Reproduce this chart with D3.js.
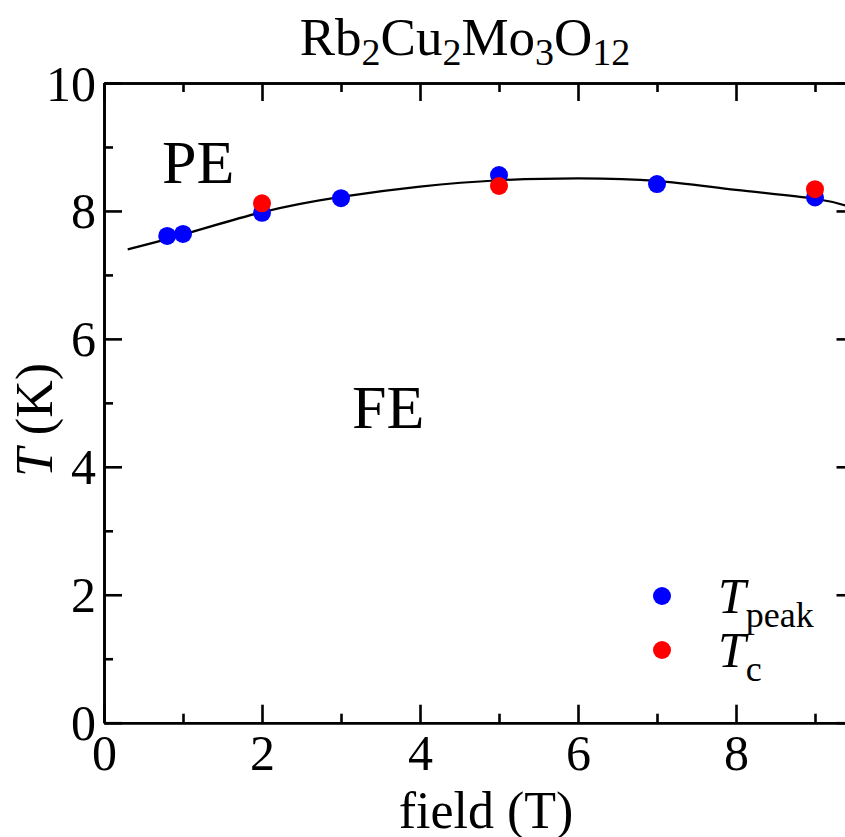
<!DOCTYPE html>
<html>
<head>
<meta charset="utf-8">
<script src="https://cdn.jsdelivr.net/npm/d3@7"></script>
<style>
  body { margin: 0; background: #fff; }
  svg { display: block; font-family: "Liberation Serif", "Times New Roman", serif; }
</style>
</head>
<body>
<svg id="chart" width="845" height="837"></svg>
<script>
// T_peak points
var peakField = [0.8, 1, 2, 3, 5, 7, 9];
var peakT = [7.61, 7.64, 7.97, 8.20, 8.56, 8.42, 8.21];
// T_c points
var tcField = [2, 5, 9];
var tcT = [8.12, 8.39, 8.34];
// guide line
var lineField = [0.3, 1, 2, 3, 4, 5, 6, 7, 8, 9, 9.5];
var lineT = [7.40, 7.63, 7.98, 8.22, 8.38, 8.48, 8.51, 8.47, 8.33, 8.19, 8.04];

var xMajor = [0, 2, 4, 6, 8];
var xMinor = [1, 3, 5, 7, 9];
var yMajor = [0, 2, 4, 6, 8, 10];
var yMinor = [1, 3, 5, 7, 9];

var svg = d3.select("#chart");
var pLeft = 104, pRight = 854.5, pTop = 83, pBottom = 722.7;

var x = d3.scaleLinear().domain([0, 9.5]).range([pLeft, pRight]);
var y = d3.scaleLinear().domain([0, 10]).range([pBottom, pTop]);

function styleAxis(g) {
    g.select(".domain").attr("stroke", "#000").attr("stroke-width", 2.6);
    g.selectAll(".tick line").attr("stroke", "#000").attr("stroke-width", 2.6);
    g.selectAll(".tick text").attr("fill", "#000")
        .style("font-family", "Liberation Serif, Times New Roman, serif")
        .style("font-size", "50px");
}

// bottom axis
var gx = svg.append("g").attr("transform", "translate(0," + pBottom + ")")
    .call(d3.axisBottom(x).tickValues(xMajor).tickSizeInner(-18).tickSizeOuter(0).tickFormat(d3.format("d")));
styleAxis(gx);
gx.selectAll(".tick text").attr("y", 12).attr("dy", "0.71em");
var gxm = svg.append("g").attr("transform", "translate(0," + pBottom + ")")
    .call(d3.axisBottom(x).tickValues(xMinor).tickSizeInner(-9).tickSizeOuter(0).tickFormat(""));
styleAxis(gxm);

// top axis
var gt = svg.append("g").attr("transform", "translate(0," + pTop + ")")
    .call(d3.axisTop(x).tickValues(xMajor).tickSizeInner(-18).tickSizeOuter(0).tickFormat(""));
styleAxis(gt);
var gtm = svg.append("g").attr("transform", "translate(0," + pTop + ")")
    .call(d3.axisTop(x).tickValues(xMinor).tickSizeInner(-9).tickSizeOuter(0).tickFormat(""));
styleAxis(gtm);

// left axis
var gy = svg.append("g").attr("transform", "translate(" + pLeft + ",0)")
    .call(d3.axisLeft(y).tickValues(yMajor).tickSizeInner(-18).tickSizeOuter(0).tickFormat(d3.format("d")));
styleAxis(gy);
gy.selectAll(".tick text").attr("x", -8).attr("dy", "0.34em");
var gym = svg.append("g").attr("transform", "translate(" + pLeft + ",0)")
    .call(d3.axisLeft(y).tickValues(yMinor).tickSizeInner(-9).tickSizeOuter(0).tickFormat(""));
styleAxis(gym);

// right axis (mostly outside the picture)
var gr = svg.append("g").attr("transform", "translate(" + pRight + ",0)")
    .call(d3.axisRight(y).tickValues(yMajor).tickSizeInner(-18).tickSizeOuter(0).tickFormat(""));
styleAxis(gr);
var grm = svg.append("g").attr("transform", "translate(" + pRight + ",0)")
    .call(d3.axisRight(y).tickValues(yMinor).tickSizeInner(-9).tickSizeOuter(0).tickFormat(""));
styleAxis(grm);

// guide line
var lineData = lineField.map(function(d, i) { return [d, lineT[i]]; });
svg.append("path")
    .datum(lineData)
    .attr("fill", "none")
    .attr("stroke", "#000")
    .attr("stroke-width", 2.2)
    .attr("d", d3.line()
        .x(function(d) { return x(d[0]); })
        .y(function(d) { return y(d[1]); })
        .curve(d3.curveNatural));

// points
svg.selectAll(".peak")
    .data(peakField)
    .enter()
    .append("circle")
    .attr("class", "peak")
    .attr("cx", function(d) { return x(d); })
    .attr("cy", function(d, i) { return y(peakT[i]); })
    .attr("r", 9)
    .attr("fill", "#0000ff");

svg.selectAll(".tc")
    .data(tcField)
    .enter()
    .append("circle")
    .attr("class", "tc")
    .attr("cx", function(d) { return x(d); })
    .attr("cy", function(d, i) { return y(tcT[i]); })
    .attr("r", 9)
    .attr("fill", "#ff0000");

// legend
var legend = [
    { color: "#0000ff", sub: "peak", yPos: 596 },
    { color: "#ff0000", sub: "c", yPos: 650 }
];
legend.forEach(function(l) {
    svg.append("circle").attr("cx", 662).attr("cy", l.yPos).attr("r", 9).attr("fill", l.color);
    var t = svg.append("text").attr("x", 718).attr("y", l.yPos + 17).style("font-size", "50px");
    t.append("tspan").style("font-style", "italic").text("T");
    t.append("tspan").attr("dy", 14).style("font-size", "36px").text(l.sub);
});

// region labels
svg.append("text").attr("x", 162).attr("y", 183).style("font-size", "62px").text("PE");
svg.append("text").attr("x", 352).attr("y", 428).style("font-size", "62px").text("FE");

// title
var title = svg.append("text").attr("x", 465).attr("y", 55).attr("text-anchor", "middle").style("font-size", "53px");
[["Rb", "2"], ["Cu", "2"], ["Mo", "3"], ["O", "12"]].forEach(function(p, i) {
    title.append("tspan").attr("dy", i === 0 ? 0 : -10).text(p[0]);
    title.append("tspan").attr("dy", 10).style("font-size", "38px").text(p[1]);
});

// axis titles
svg.append("text").attr("x", 486).attr("y", 828).attr("text-anchor", "middle")
    .style("font-size", "52px").text("field (T)");

var yl = svg.append("text")
    .attr("transform", "translate(52,420) rotate(-90)")
    .attr("text-anchor", "middle")
    .style("font-size", "52px");
yl.append("tspan").style("font-style", "italic").text("T");
yl.append("tspan").text(" (K)");
</script>
</body>
</html>
